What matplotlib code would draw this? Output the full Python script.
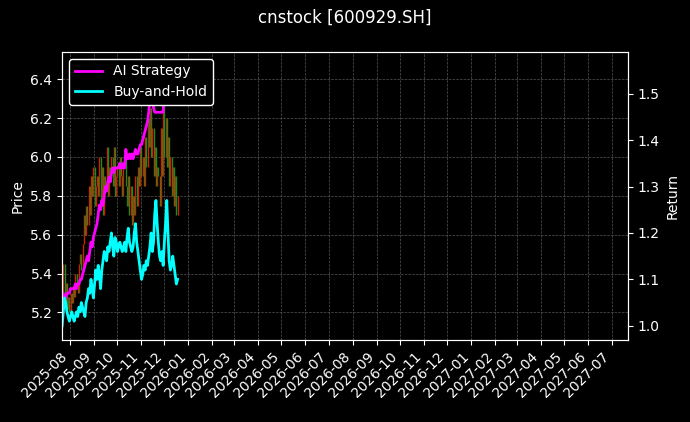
import matplotlib
matplotlib.use("Agg")
import matplotlib.pyplot as plt
import matplotlib.dates as mdates
import pandas as pd

# daily bars (open / close) and return curves
opens = [5.25,5.30,5.45,5.25,5.35,5.22,5.28,5.20,5.30,5.25,5.32,5.28,5.40,5.35,5.30,5.45,5.50,
         5.42,5.55,5.70,5.60,5.75,5.65,5.85,5.70,5.90,5.80,5.95,5.75,5.85,
         5.90,5.80,6.00,5.75,5.95,5.70,5.90,5.85,6.05,5.80,5.95,5.90,6.00,5.85,6.05,5.80,
         5.90,5.95,5.85,6.00,5.90,5.80,5.95,6.00,5.85,5.75,5.90,5.70,5.85,5.65,5.80,5.70,5.90,5.75,5.95,5.85,6.05,
         5.90,6.00,5.85,6.10,5.95,6.20,6.05,6.25,6.00,6.15,5.90,6.05,5.85,5.95,
         5.90,5.75,6.15,5.90,6.30,6.00,6.20,5.95,6.10,5.85,6.00,5.80,5.95,5.75,5.90,5.70]
closes = [5.30,5.45,5.25,5.35,5.22,5.28,5.20,5.30,5.25,5.32,5.28,5.40,5.35,5.30,5.45,5.50,5.42,
          5.55,5.70,5.60,5.75,5.65,5.85,5.70,5.90,5.80,5.95,5.75,5.85,5.90,
          5.80,6.00,5.75,5.95,5.70,5.90,5.85,6.05,5.80,5.95,5.90,6.00,5.85,6.05,5.80,5.90,
          5.95,5.85,6.00,5.90,5.80,5.95,6.00,5.85,5.75,5.90,5.70,5.85,5.65,5.80,5.70,5.90,5.75,5.95,5.85,6.05,5.90,
          6.00,5.85,6.10,5.95,6.20,6.05,6.25,6.00,6.15,5.90,6.05,5.85,5.95,5.90,
          5.75,6.15,5.90,6.30,6.00,6.20,5.95,6.10,5.85,6.00,5.80,5.95,5.75,5.90,5.70,5.80]
ai_strategy = [1.07,1.07,1.06,1.06,1.07,1.07,1.07,1.08,1.08,1.08,1.08,1.09,1.08,1.09,1.09,1.10,1.10,
               1.11,1.12,1.13,1.14,1.15,1.14,1.16,1.18,1.17,1.19,1.20,1.21,1.22,
               1.24,1.26,1.25,1.27,1.26,1.28,1.30,1.29,1.31,1.32,1.31,1.33,1.34,1.33,1.34,1.34,
               1.34,1.34,1.35,1.34,1.34,1.35,1.34,1.38,1.36,1.36,1.37,1.36,1.37,1.36,1.37,1.38,1.37,1.37,1.38,1.39,1.39,
               1.40,1.41,1.42,1.43,1.44,1.46,1.49,1.52,1.50,1.47,1.46,1.46,1.46,1.46,
               1.46,1.46,1.46,1.46,1.52,1.55,1.57,1.56,1.57,1.55,1.54,1.56,1.57,1.55,1.56,1.57]
buy_hold = [1.00,1.03,1.06,1.05,1.03,1.02,1.01,1.02,1.03,1.02,1.01,
            1.02,1.03,1.02,1.04,1.03,1.05,1.04,1.03,1.02,1.05,1.06,1.08,
            1.07,1.10,1.08,1.06,1.09,1.12,1.10,1.13,1.11,1.08,1.12,1.14,1.16,1.15,
            1.14,1.17,1.16,1.18,1.20,1.17,1.15,1.19,1.18,1.16,1.17,1.18,1.17,1.16,1.17,1.18,1.16,1.19,1.21,1.18,1.17,1.16,
            1.17,1.20,1.22,1.18,1.16,1.14,1.12,1.10,1.11,1.13,1.12,1.14,1.13,1.15,1.17,1.20,1.16,1.18,1.24,1.27,1.22,
            1.18,1.15,1.14,1.16,1.13,1.18,1.22,1.27,1.20,1.14,1.12,1.13,1.15,1.13,1.11,1.09,1.10]

dates = pd.date_range("2025-07-22", "2025-12-18", periods=len(closes))

plt.style.use("dark_background")
fig, ax = plt.subplots(figsize=(6.9, 4.22), dpi=100)
fig.patch.set_facecolor("black")
ax.set_facecolor("black")
fig.subplots_adjust(left=0.09, right=0.91, top=0.877, bottom=0.195)

for d, o, c in zip(dates, opens, closes):
    color = "#cc2200" if c >= o else "#1f8a1f"
    ax.vlines(d, min(o, c), max(o, c), color=color, linewidth=1.0)

ax.set_ylabel("Price")
ax.set_ylim(5.06, 6.54)
ax.grid(True, color="#555555", linestyle="--", linewidth=0.5)

ax2 = ax.twinx()
ax2.plot(dates, ai_strategy, color="magenta", linewidth=2, label="AI Strategy")
ax2.plot(dates, buy_hold, color="cyan", linewidth=2, label="Buy-and-Hold")
ax2.set_ylabel("Return")
ax2.set_ylim(0.97, 1.59)

ax.set_xlim(pd.Timestamp("2025-07-22"), pd.Timestamp("2027-07-22"))
ax.xaxis.set_major_locator(mdates.MonthLocator())
ax.xaxis.set_major_formatter(mdates.DateFormatter("%Y-%m"))
plt.setp(ax.get_xticklabels(), rotation=45, ha="right")

leg = ax2.legend(loc="upper left", facecolor="black", edgecolor="white", framealpha=1)
fig.suptitle("cnstock [600929.SH]", fontsize=12)
fig.savefig("out.png", facecolor="black")
